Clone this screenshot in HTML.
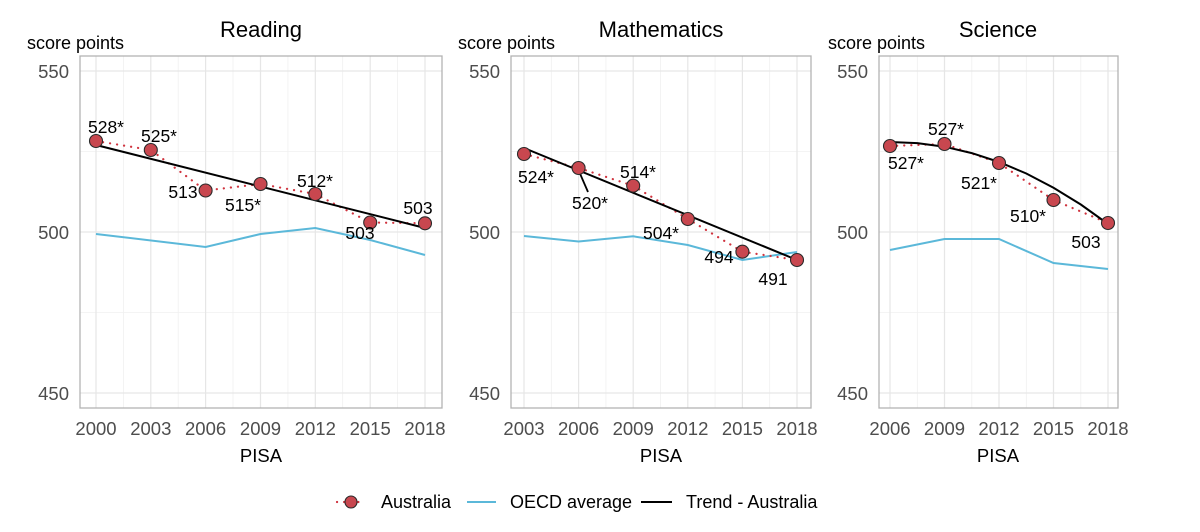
<!DOCTYPE html>
<html><head><meta charset="utf-8"><style>
html,body{margin:0;padding:0;background:#fff;}
svg{display:block;font-family:"Liberation Sans",sans-serif;}
.t{font-size:22px;fill:#000;text-anchor:middle}
.sp{font-size:18px;fill:#000}
.yl{font-size:18.5px;fill:#4d4d4d;text-anchor:end}
.xl{font-size:18.5px;fill:#4d4d4d;text-anchor:middle}
.ax{font-size:18.5px;fill:#000;text-anchor:middle}
.lb{font-size:17.5px;fill:#000;text-anchor:middle}
.lg{font-size:18px;fill:#000}
.maj{stroke:#e6e6e6;stroke-width:1.2}
.min{stroke:#f0f0f0;stroke-width:0.8}
.bd{fill:none;stroke:#b3b3b3;stroke-width:1.3}
.oe{fill:none;stroke:#5bb8d9;stroke-width:2}
.tr{fill:none;stroke:#000;stroke-width:2}
.au{fill:none;stroke:#d0343f;stroke-width:2.2;stroke-dasharray:0.1 7;stroke-linecap:round}
.pt{fill:#c8474f;stroke:#2a2a2a;stroke-width:1.1}
</style></head><body>
<svg width="1200" height="532" viewBox="0 0 1200 532">
<!-- Panel 1 Reading -->
<g>
<line class="min" x1="80" x2="442" y1="151.5" y2="151.5"/><line class="min" x1="80" x2="442" y1="312.5" y2="312.5"/>
<line class="min" x1="123.4" x2="123.4" y1="56" y2="408"/><line class="min" x1="178.2" x2="178.2" y1="56" y2="408"/><line class="min" x1="233" x2="233" y1="56" y2="408"/><line class="min" x1="287.9" x2="287.9" y1="56" y2="408"/><line class="min" x1="342.7" x2="342.7" y1="56" y2="408"/><line class="min" x1="397.6" x2="397.6" y1="56" y2="408"/>
<line class="maj" x1="80" x2="442" y1="71" y2="71"/><line class="maj" x1="80" x2="442" y1="232" y2="232"/><line class="maj" x1="80" x2="442" y1="393" y2="393"/>
<line class="maj" x1="96" x2="96" y1="56" y2="408"/><line class="maj" x1="150.8" x2="150.8" y1="56" y2="408"/><line class="maj" x1="205.6" x2="205.6" y1="56" y2="408"/><line class="maj" x1="260.5" x2="260.5" y1="56" y2="408"/><line class="maj" x1="315.3" x2="315.3" y1="56" y2="408"/><line class="maj" x1="370.2" x2="370.2" y1="56" y2="408"/><line class="maj" x1="425" x2="425" y1="56" y2="408"/>
<rect class="bd" x="80" y="56" width="362" height="352"/>
<polyline class="oe" points="96,234 205.6,247 260.5,234 315.3,228 370.2,240 425,255"/>
<polyline class="au" points="96,141 150.8,150 205.6,190.5 260.5,184 315.3,194 370.2,222.5 425,223.3"/>
<line class="tr" x1="96" y1="145" x2="425" y2="228"/>
<circle class="pt" cx="96" cy="141" r="6.5"/><circle class="pt" cx="150.8" cy="150" r="6.5"/><circle class="pt" cx="205.6" cy="190.5" r="6.5"/><circle class="pt" cx="260.5" cy="184" r="6.5"/><circle class="pt" cx="315.3" cy="194" r="6.5"/><circle class="pt" cx="370.2" cy="222.5" r="6.5"/><circle class="pt" cx="425" cy="223.3" r="6.5"/>
<text class="lb" x="106" y="133">528*</text><text class="lb" x="159" y="142">525*</text><text class="lb" x="183" y="198">513</text><text class="lb" x="243" y="211">515*</text><text class="lb" x="315" y="187">512*</text><text class="lb" x="360" y="239">503</text><text class="lb" x="418" y="214">503</text>
<text class="yl" x="69" y="78">550</text><text class="yl" x="69" y="239">500</text><text class="yl" x="69" y="400">450</text>
<text class="xl" x="96" y="435">2000</text><text class="xl" x="150.8" y="435">2003</text><text class="xl" x="205.6" y="435">2006</text><text class="xl" x="260.5" y="435">2009</text><text class="xl" x="315.3" y="435">2012</text><text class="xl" x="370.2" y="435">2015</text><text class="xl" x="425" y="435">2018</text>
<text class="ax" x="261" y="462">PISA</text>
<text class="t" x="261" y="37">Reading</text>
<text class="sp" x="27" y="49">score points</text>
</g>
<!-- Panel 2 Math -->
<g>
<line class="min" x1="511" x2="811" y1="151.5" y2="151.5"/><line class="min" x1="511" x2="811" y1="312.5" y2="312.5"/>
<line class="min" x1="551.3" x2="551.3" y1="56" y2="408"/><line class="min" x1="605.9" x2="605.9" y1="56" y2="408"/><line class="min" x1="660.5" x2="660.5" y1="56" y2="408"/><line class="min" x1="715.1" x2="715.1" y1="56" y2="408"/><line class="min" x1="769.7" x2="769.7" y1="56" y2="408"/>
<line class="maj" x1="511" x2="811" y1="71" y2="71"/><line class="maj" x1="511" x2="811" y1="232" y2="232"/><line class="maj" x1="511" x2="811" y1="393" y2="393"/>
<line class="maj" x1="524" x2="524" y1="56" y2="408"/><line class="maj" x1="578.6" x2="578.6" y1="56" y2="408"/><line class="maj" x1="633.2" x2="633.2" y1="56" y2="408"/><line class="maj" x1="687.8" x2="687.8" y1="56" y2="408"/><line class="maj" x1="742.4" x2="742.4" y1="56" y2="408"/><line class="maj" x1="797" x2="797" y1="56" y2="408"/>
<rect class="bd" x="511" y="56" width="300" height="352"/>
<polyline class="oe" points="524,236 578.6,241.5 633.2,236.3 687.8,245 742.4,260 797,252"/>
<polyline class="au" points="524,154 578.6,168 633.2,185.7 687.8,219 742.4,251.7 797,260"/>
<line class="tr" x1="524" y1="148" x2="797" y2="260"/>
<line x1="578" y1="169" x2="588" y2="192" stroke="#000" stroke-width="1.8"/>
<circle class="pt" cx="524" cy="154" r="6.5"/><circle class="pt" cx="578.6" cy="168" r="6.5"/><circle class="pt" cx="633.2" cy="185.7" r="6.5"/><circle class="pt" cx="687.8" cy="219" r="6.5"/><circle class="pt" cx="742.4" cy="251.7" r="6.5"/><circle class="pt" cx="797" cy="260" r="6.5"/>
<text class="lb" x="536" y="183">524*</text><text class="lb" x="590" y="209">520*</text><text class="lb" x="638" y="178">514*</text><text class="lb" x="661" y="239">504*</text><text class="lb" x="719" y="263">494</text><text class="lb" x="773" y="285">491</text>
<text class="yl" x="500" y="78">550</text><text class="yl" x="500" y="239">500</text><text class="yl" x="500" y="400">450</text>
<text class="xl" x="524" y="435">2003</text><text class="xl" x="578.6" y="435">2006</text><text class="xl" x="633.2" y="435">2009</text><text class="xl" x="687.8" y="435">2012</text><text class="xl" x="742.4" y="435">2015</text><text class="xl" x="797" y="435">2018</text>
<text class="ax" x="661" y="462">PISA</text>
<text class="t" x="661" y="37">Mathematics</text>
<text class="sp" x="458" y="49">score points</text>
</g>
<!-- Panel 3 Science -->
<g>
<line class="min" x1="879" x2="1118" y1="151.5" y2="151.5"/><line class="min" x1="879" x2="1118" y1="312.5" y2="312.5"/>
<line class="min" x1="917.3" x2="917.3" y1="56" y2="408"/><line class="min" x1="971.8" x2="971.8" y1="56" y2="408"/><line class="min" x1="1026.3" x2="1026.3" y1="56" y2="408"/><line class="min" x1="1080.8" x2="1080.8" y1="56" y2="408"/>
<line class="maj" x1="879" x2="1118" y1="71" y2="71"/><line class="maj" x1="879" x2="1118" y1="232" y2="232"/><line class="maj" x1="879" x2="1118" y1="393" y2="393"/>
<line class="maj" x1="890" x2="890" y1="56" y2="408"/><line class="maj" x1="944.5" x2="944.5" y1="56" y2="408"/><line class="maj" x1="999" x2="999" y1="56" y2="408"/><line class="maj" x1="1053.5" x2="1053.5" y1="56" y2="408"/><line class="maj" x1="1108" x2="1108" y1="56" y2="408"/>
<rect class="bd" x="879" y="56" width="239" height="352"/>
<polyline class="oe" points="890,250 944.5,239 999,239 1053.5,263 1108,269"/>
<polyline class="au" points="890,146 944.5,144 999,163 1053.5,200 1108,223"/>
<polyline class="tr" points="890,142 917.3,143.1 944.5,146.7 971.8,153.1 999,162 1026.3,173.5 1053.5,187.8 1080.8,204.5 1108,224"/>
<circle class="pt" cx="890" cy="146" r="6.5"/><circle class="pt" cx="944.5" cy="144" r="6.5"/><circle class="pt" cx="999" cy="163" r="6.5"/><circle class="pt" cx="1053.5" cy="200" r="6.5"/><circle class="pt" cx="1108" cy="223" r="6.5"/>
<text class="lb" x="906" y="169">527*</text><text class="lb" x="946" y="135">527*</text><text class="lb" x="979" y="189">521*</text><text class="lb" x="1028" y="222">510*</text><text class="lb" x="1086" y="248">503</text>
<text class="yl" x="868" y="78">550</text><text class="yl" x="868" y="239">500</text><text class="yl" x="868" y="400">450</text>
<text class="xl" x="890" y="435">2006</text><text class="xl" x="944.5" y="435">2009</text><text class="xl" x="999" y="435">2012</text><text class="xl" x="1053.5" y="435">2015</text><text class="xl" x="1108" y="435">2018</text>
<text class="ax" x="998" y="462">PISA</text>
<text class="t" x="998" y="37">Science</text>
<text class="sp" x="828" y="49">score points</text>
</g>
<!-- Legend -->
<line class="au" x1="337" y1="502" x2="365" y2="502"/>
<circle class="pt" cx="351" cy="502" r="6"/>
<text class="lg" x="381" y="508">Australia</text>
<line x1="467" y1="502" x2="496" y2="502" stroke="#5bb8d9" stroke-width="2"/>
<text class="lg" x="510" y="508">OECD average</text>
<line x1="641" y1="502" x2="672" y2="502" stroke="#000" stroke-width="2"/>
<text class="lg" x="686" y="508">Trend - Australia</text>
</svg>
</body></html>
